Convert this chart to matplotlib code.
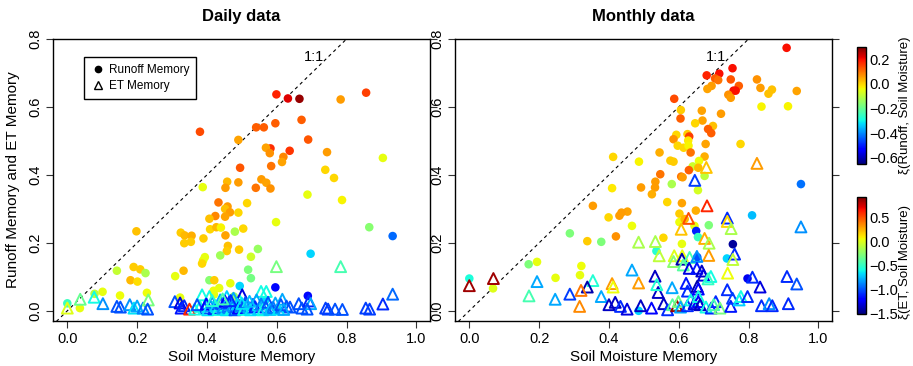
import matplotlib
matplotlib.use("Agg")
import matplotlib.pyplot as plt
import matplotlib.colors as mcolors
import matplotlib.cm as cm
from matplotlib.lines import Line2D

plt.rcParams['font.family'] = ['Liberation Sans', 'DejaVu Sans']

# ---------------- DAILY: runoff memory (circles) ----------------
daily_runoff_x = [0.599, 0.632, 0.665, 0.783, 0.856, 0.671, 0.596, 0.541, 0.563, 0.380,
                  0.490, 0.690, 0.582, 0.569, 0.580, 0.637, 0.619, 0.615, 0.744, 0.495,
                  0.584, 0.904, 0.739, 0.764, 0.388, 0.458, 0.453, 0.490, 0.556, 0.570,
                  0.540, 0.582, 0.688, 0.787, 0.433, 0.459, 0.515, 0.452, 0.466, 0.490,
                  0.424, 0.407, 0.452, 0.409, 0.427, 0.440, 0.504, 0.480, 0.198, 0.598,
                  0.325, 0.336, 0.356, 0.354, 0.335, 0.453, 0.390, 0.460, 0.457, 0.492,
                  0.546, 0.438, 0.526, 0.394, 0.389, 0.386, 0.697, 0.865, 0.932, 0.518,
                  0.526, 0.407, 0.421, 0.467, 0.435, 0.419, 0.309, 0.333, 0.142, 0.190,
                  0.209, 0.224, 0.181, 0.201, 0.101, 0.151, 0.078, 0.228, 0.036, 0.000,
                  0.494, 0.596, 0.689, 0.323, 0.566, 0.477, 0.420, 0.600]
daily_runoff_y = [0.637, 0.625, 0.624, 0.622, 0.642, 0.562, 0.552, 0.540, 0.540, 0.527,
                  0.503, 0.504, 0.478, 0.480, 0.464, 0.471, 0.453, 0.438, 0.467, 0.421,
                  0.426, 0.450, 0.415, 0.391, 0.364, 0.380, 0.362, 0.378, 0.387, 0.377,
                  0.362, 0.360, 0.342, 0.326, 0.319, 0.307, 0.317, 0.300, 0.290, 0.289,
                  0.279, 0.271, 0.277, 0.240, 0.246, 0.245, 0.242, 0.233, 0.234, 0.261,
                  0.230, 0.222, 0.221, 0.203, 0.199, 0.222, 0.213, 0.191, 0.176, 0.180,
                  0.182, 0.163, 0.159, 0.158, 0.148, 0.139, 0.168, 0.246, 0.220, 0.121,
                  0.096, 0.090, 0.090, 0.081, 0.067, 0.059, 0.102, 0.118, 0.118, 0.129,
                  0.122, 0.111, 0.090, 0.086, 0.056, 0.045, 0.050, 0.053, 0.008, 0.022,
                  0.073, 0.069, 0.044, 0.039, 0.029, 0.042, 0.048, 0.005]
daily_runoff_c = [0.18, 0.22, 0.28, 0.06, 0.15, 0.12, 0.12, 0.12, 0.12, 0.14,
                  0.05, 0.13, 0.17, 0.05, 0.07, 0.16, 0.08, 0.05, 0.06, 0.13,
                  0.10, -0.05, 0.00, 0.00, -0.05, 0.03, 0.06, 0.06, 0.06, 0.05,
                  0.10, 0.07, -0.05, -0.03, 0.10, 0.06, 0.00, 0.02, 0.06, 0.00,
                  0.08, 0.02, 0.05, 0.00, 0.03, -0.03, 0.00, -0.12, 0.02, -0.05,
                  0.01, 0.03, 0.04, 0.01, 0.01, 0.05, 0.01, 0.02, 0.01, 0.01,
                  -0.14, -0.13, -0.08, -0.05, -0.05, 0.00, -0.33, -0.16, -0.43, -0.17,
                  -0.18, -0.16, 0.01, -0.05, -0.05, -0.04, -0.05, 0.03, -0.09, 0.01,
                  0.01, -0.12, 0.03, -0.01, -0.05, -0.04, -0.10, -0.04, -0.05, -0.25,
                  -0.33, -0.52, -0.52, -0.05, -0.33, -0.15, -0.05, -0.18]

# ---------------- DAILY: ET memory (triangles) ----------------
daily_et_x = [0.000, 0.037, 0.077, 0.102, 0.142, 0.152, 0.179, 0.191, 0.200, 0.217,
              0.232, 0.230, 0.308, 0.323, 0.326, 0.335, 0.350, 0.386, 0.407, 0.380,
              0.394, 0.410, 0.428, 0.438, 0.448, 0.457, 0.466, 0.476, 0.483, 0.494,
              0.501, 0.555, 0.570, 0.599, 0.783, 0.515, 0.532, 0.542, 0.569, 0.585,
              0.596, 0.616, 0.628, 0.638, 0.663, 0.672, 0.692, 0.697, 0.687, 0.740,
              0.747, 0.767, 0.788, 0.855, 0.866, 0.904, 0.932,
              0.365, 0.372, 0.398, 0.402, 0.415, 0.420, 0.425, 0.432, 0.440, 0.445,
              0.452, 0.455, 0.460, 0.463, 0.470, 0.474, 0.480, 0.487, 0.490, 0.497,
              0.505, 0.510, 0.520, 0.525, 0.538, 0.548, 0.555, 0.560, 0.575, 0.580,
              0.590, 0.605, 0.612, 0.620, 0.468, 0.445, 0.500, 0.522, 0.415]
daily_et_y = [0.008, 0.034, 0.040, 0.021, 0.013, 0.011, 0.018, 0.008, 0.014, 0.008,
              0.032, 0.005, 0.027, 0.023, 0.008, 0.015, 0.005, 0.047, 0.042, 0.013,
              0.008, 0.014, 0.008, 0.032, 0.014, 0.042, 0.020, 0.037, 0.011, 0.030,
              0.047, 0.057, 0.057, 0.130, 0.130, 0.017, 0.019, 0.032, 0.011, 0.008,
              0.023, 0.034, 0.014, 0.011, 0.021, 0.008, 0.029, 0.021, 0.005, 0.008,
              0.005, 0.005, 0.004, 0.008, 0.005, 0.020, 0.049,
              0.005, 0.018, 0.020, 0.003, 0.025, 0.006, 0.015, 0.004, 0.022, 0.008,
              0.028, 0.003, 0.012, 0.025, 0.006, 0.016, 0.003, 0.020, 0.008, 0.015,
              0.004, 0.024, 0.010, 0.003, 0.012, 0.005, 0.020, 0.003, 0.025, 0.004,
              0.010, 0.005, 0.018, 0.004, 0.030, 0.035, 0.022, 0.028, 0.030]
daily_et_c = [0.00, -0.35, -0.60, -0.85, -1.00, -1.00, -0.85, -0.65, -0.80, -0.90,
              -0.30, -1.00, -1.00, -1.30, -1.15, -1.10, 0.60, -0.60, -0.60, -0.60,
              -1.00, -0.80, -1.00, -0.80, -1.00, -0.70, -1.00, -0.80, -1.00, -0.60,
              -1.30, -0.60, -0.60, -0.30, -0.45, -0.80, -1.00, -0.80, -1.00, -1.00,
              -0.80, -0.80, -1.00, -1.00, -1.00, -1.00, -1.10, -0.80, -1.00, -1.05,
              -1.05, -1.00, -1.00, -1.05, -1.05, -1.10, -0.95,
              -0.60, -1.00, -1.20, -0.65, -0.90, -1.10, -0.70, -0.60, -1.00, -0.85,
              -1.20, -0.65, -0.90, -1.10, -0.60, -0.85, -1.00, -0.70, -1.20, -0.90,
              -0.60, -1.00, -0.80, -0.65, -1.10, -0.70, -0.90, -0.60, -1.00, -0.75,
              -0.90, -0.65, -1.00, -0.80, -1.10, -0.45, -0.65, -0.75, -0.55]

# ---------------- MONTHLY: runoff memory (circles) ----------------
monthly_runoff_x = [0.909, 0.754, 0.680, 0.716, 0.704, 0.713, 0.749, 0.824, 0.694, 0.682,
                    0.772, 0.757, 0.763, 0.742, 0.749, 0.834, 0.857, 0.867, 0.938, 0.837,
                    0.913, 0.587, 0.606, 0.605, 0.666, 0.668, 0.721, 0.647, 0.698, 0.684,
                    0.693, 0.593, 0.585, 0.625, 0.630, 0.627, 0.597, 0.614, 0.628, 0.677,
                    0.777, 0.634, 0.674, 0.412, 0.545, 0.486, 0.576, 0.585, 0.658, 0.640,
                    0.656, 0.629, 0.547, 0.607, 0.611, 0.674, 0.533, 0.532, 0.492, 0.409,
                    0.523, 0.580, 0.655, 0.567, 0.609, 0.649, 0.354, 0.453, 0.436, 0.430,
                    0.399, 0.466, 0.602, 0.602, 0.645, 0.686, 0.650, 0.655, 0.755, 0.810,
                    0.950, 0.288, 0.338, 0.378, 0.420, 0.556, 0.609, 0.536, 0.170, 0.194,
                    0.321, 0.247, 0.317, 0.000, 0.068, 0.738, 0.797, 0.485, 0.653, 0.617]
monthly_runoff_y = [0.774, 0.714, 0.693, 0.698, 0.684, 0.679, 0.681, 0.681, 0.662, 0.653,
                    0.662, 0.648, 0.648, 0.636, 0.627, 0.656, 0.639, 0.651, 0.647, 0.601,
                    0.602, 0.624, 0.591, 0.566, 0.589, 0.560, 0.580, 0.552, 0.544, 0.535,
                    0.523, 0.518, 0.505, 0.520, 0.513, 0.501, 0.486, 0.480, 0.486, 0.491,
                    0.491, 0.466, 0.454, 0.453, 0.466, 0.439, 0.442, 0.439, 0.441, 0.425,
                    0.421, 0.414, 0.402, 0.395, 0.393, 0.397, 0.380, 0.363, 0.363, 0.361,
                    0.343, 0.373, 0.355, 0.320, 0.317, 0.295, 0.309, 0.292, 0.289, 0.280,
                    0.275, 0.250, 0.286, 0.261, 0.250, 0.252, 0.235, 0.217, 0.196, 0.281,
                    0.373, 0.228, 0.205, 0.203, 0.219, 0.215, 0.197, 0.176, 0.137, 0.144,
                    0.132, 0.097, 0.105, 0.095, 0.066, 0.154, 0.095, 0.000, 0.158, 0.270]
monthly_runoff_c = [0.20, 0.20, 0.18, 0.20, 0.12, 0.10, 0.13, 0.07, 0.06, 0.05,
                    0.12, 0.20, 0.20, 0.07, 0.06, 0.06, 0.02, 0.02, 0.05, -0.03,
                    -0.03, 0.14, 0.01, 0.12, 0.05, 0.05, 0.06, 0.00, 0.02, 0.12,
                    0.12, 0.00, 0.07, 0.01, 0.15, -0.02, 0.00, 0.00, -0.03, 0.05,
                    0.00, 0.10, 0.04, 0.00, 0.04, -0.03, 0.01, 0.01, -0.04, -0.08,
                    0.03, 0.12, 0.10, 0.10, 0.06, -0.10, 0.06, 0.06, 0.06, -0.02,
                    0.04, -0.12, -0.07, 0.00, 0.05, 0.04, 0.06, 0.05, 0.06, 0.06,
                    0.00, -0.04, 0.01, -0.04, -0.05, -0.17, -0.50, -0.25, -0.62, -0.35,
                    -0.42, -0.17, 0.01, -0.17, 0.07, 0.00, -0.05, -0.27, -0.17, -0.05,
                    -0.04, -0.05, -0.05, -0.28, -0.06, -0.33, -0.55, -0.33, -0.45, 0.03]

# ---------------- MONTHLY: ET memory (triangles) ----------------
monthly_et_x = [0.824, 0.679, 0.646, 0.681, 0.628, 0.607, 0.739, 0.739, 0.750, 0.674,
                0.687, 0.485, 0.533, 0.686, 0.760, 0.755, 0.950, 0.544, 0.587, 0.610,
                0.585, 0.609, 0.631, 0.613, 0.652, 0.630, 0.652, 0.666, 0.671, 0.692,
                0.684, 0.532, 0.466, 0.740, 0.811, 0.910, 0.938, 0.833, 0.739, 0.621,
                0.625, 0.653, 0.656, 0.541, 0.581, 0.537, 0.485, 0.409, 0.412, 0.354,
                0.338, 0.320, 0.194, 0.288, 0.246, 0.171, 0.000, 0.069, 0.316, 0.378,
                0.400, 0.418, 0.433, 0.452, 0.491, 0.522, 0.557, 0.568, 0.582, 0.594,
                0.599, 0.605, 0.625, 0.634, 0.644, 0.656, 0.656, 0.661, 0.678, 0.693,
                0.706, 0.700, 0.718, 0.749, 0.754, 0.773, 0.778, 0.797, 0.837, 0.859,
                0.868, 0.914]
monthly_et_y = [0.434, 0.422, 0.384, 0.309, 0.272, 0.240, 0.273, 0.263, 0.242, 0.213,
                0.199, 0.202, 0.204, 0.163, 0.167, 0.151, 0.247, 0.162, 0.162, 0.162,
                0.145, 0.152, 0.157, 0.135, 0.160, 0.125, 0.125, 0.117, 0.105, 0.101,
                0.094, 0.102, 0.120, 0.111, 0.099, 0.101, 0.079, 0.070, 0.062, 0.081,
                0.058, 0.072, 0.064, 0.054, 0.068, 0.077, 0.082, 0.080, 0.070, 0.089,
                0.070, 0.060, 0.086, 0.049, 0.034, 0.044, 0.074, 0.095, 0.013, 0.042,
                0.018, 0.025, 0.013, 0.005, 0.015, 0.008, 0.021, 0.003, 0.018, 0.015,
                0.027, 0.011, 0.015, 0.032, 0.021, 0.027, 0.042, 0.018, 0.011, 0.008,
                0.027, 0.018, 0.008, 0.013, 0.037, 0.032, 0.042, 0.042, 0.015, 0.021,
                0.015, 0.021]
monthly_et_c = [0.30, 0.20, -1.05, 0.60, 0.50, 0.20, -1.10, 0.15, -0.15, 0.25,
                -0.15, -0.15, -0.15, 0.30, -1.10, -0.10, -0.85, -0.10, 0.00, 0.05,
                -0.25, -1.40, -0.45, -0.40, -0.85, -1.30, -1.15, -1.35, -1.30, -0.60,
                -0.50, -1.35, -0.80, 0.05, -1.10, -1.10, -1.00, -1.30, -1.10, -1.15,
                -1.10, -1.40, -1.20, -1.35, -0.80, -0.55, 0.30, 0.30, 0.05, -0.55,
                -1.40, 0.40, -0.80, -1.05, -0.80, -0.45, 0.85, 0.85, 0.35, -0.80,
                -1.35, -1.35, -1.10, -1.30, -1.35, -1.20, -1.35, -1.10, -0.40, 0.85,
                -0.30, -0.80, -1.10, -0.60, -1.30, -1.20, -0.60, -1.35, -0.60, -1.10,
                -1.10, -0.45, -0.30, -1.15, -1.05, -0.70, -0.60, -1.10, -1.10, -0.85,
                -1.10, -1.10]

x_ticks = [0.0, 0.2, 0.4, 0.6, 0.8, 1.0]
y_ticks = [0.0, 0.2, 0.4, 0.6, 0.8]
runoff_cbar_ticks = [0.2, 0.0, -0.2, -0.4, -0.6]
et_cbar_ticks = [0.5, 0.0, -0.5, -1.0, -1.5]

cmap = plt.get_cmap('jet')
norm_r = mcolors.Normalize(vmin=-0.645, vmax=0.30)
norm_e = mcolors.Normalize(vmin=-1.5, vmax=0.92)

W, H = 913, 366
fig = plt.figure(figsize=(W / 100, H / 100), dpi=100)

def px_axes(l, t, r, b):
    return [l / W, (H - b) / H, (r - l) / W, (b - t) / H]

ax1 = fig.add_axes(px_axes(53, 39, 430, 321))
ax2 = fig.add_axes(px_axes(455, 39, 832, 321))

def style(ax, title, ylabel=None):
    ax.set_xlim(-0.041, 1.039)
    ax.set_ylim(-0.03, 0.8)
    ax.set_xticks(x_ticks)
    ax.set_xticklabels([f"{v:.1f}" for v in x_ticks])
    ax.set_yticks(y_ticks)
    ax.set_yticklabels([f"{v:.1f}" for v in y_ticks], rotation=90, va='center')
    ax.tick_params(axis='both', direction='out', length=5, width=0.8, labelsize=10.5,
                   color='#333333')
    ax.tick_params(axis='y', right=True, pad=3)
    ax.tick_params(axis='x', pad=3)
    for s in ax.spines.values():
        s.set_linewidth(1.0)
    ax.set_title(title, fontsize=12, fontweight='bold', pad=13)
    ax.set_xlabel("Soil Moisture Memory", fontsize=11, labelpad=3)
    if ylabel:
        ax.set_ylabel(ylabel, fontsize=11, labelpad=6)
    ax.plot([-0.1, 1.1], [-0.1, 1.1], linestyle=(0, (3, 3)), color='black', lw=0.8, zorder=1)
    ax.text(0.706, 0.747, "1:1", fontsize=10.5, ha='center', va='center', zorder=2)

def draw(ax, rx, ry, rc, ex, ey, ec):
    ax.scatter(rx, ry, c=rc, cmap=cmap, norm=norm_r, s=38, marker='o',
               edgecolors='none', zorder=3)
    ecolors = [cmap(norm_e(v)) for v in ec]
    ax.scatter(ex, ey, s=62, marker='^', facecolors='none', edgecolors=ecolors,
               linewidths=1.4, zorder=4)

style(ax1, "Daily data", "Runoff Memory and ET Memory")
style(ax2, "Monthly data")
draw(ax1, daily_runoff_x, daily_runoff_y, daily_runoff_c, daily_et_x, daily_et_y, daily_et_c)
draw(ax2, monthly_runoff_x, monthly_runoff_y, monthly_runoff_c,
     monthly_et_x, monthly_et_y, monthly_et_c)

handles = [Line2D([], [], marker='o', color='black', linestyle='none', markersize=4.5),
           Line2D([], [], marker='^', markerfacecolor='none', markeredgecolor='black',
                  linestyle='none', markersize=6, markeredgewidth=1.0)]
leg = ax1.legend(handles, ["Runoff Memory", "ET Memory"], loc='upper left',
                 bbox_to_anchor=(0.082, 0.936), fontsize=8.5, frameon=True, fancybox=False,
                 edgecolor='black', framealpha=1, handletextpad=0.3, handlelength=1.2,
                 borderpad=0.6, labelspacing=0.35, borderaxespad=0)
leg.get_frame().set_linewidth(1.0)

# colorbars
cax1 = fig.add_axes(px_axes(856.5, 47, 865.5, 163.5))
cb1 = fig.colorbar(cm.ScalarMappable(norm=norm_r, cmap=cmap), cax=cax1)
cb1.set_ticks(runoff_cbar_ticks)
cb1.set_ticklabels(["0.2", "0.0", "\u22120.2", "\u22120.4", "\u22120.6"])
cax2 = fig.add_axes(px_axes(856.5, 197, 865.5, 313.5))
cb2 = fig.colorbar(cm.ScalarMappable(norm=norm_e, cmap=cmap), cax=cax2)
cb2.set_ticks(et_cbar_ticks)
cb2.set_ticklabels(["0.5", "0.0", "\u22120.5", "\u22121.0", "\u22121.5"])
for cb in (cb1, cb2):
    cb.outline.set_linewidth(1.0)
    cb.ax.tick_params(labelsize=10.5, length=0, pad=3)

fig.text(905 / W, 1 - 105 / H, "\u03be(Runoff, Soil Moisture)", rotation=90,
         ha='center', va='center', fontsize=9.5)
fig.text(905 / W, 1 - 262 / H, "\u03be(ET, Soil Moisture)", rotation=90,
         ha='center', va='center', fontsize=9.5)

fig.savefig("out.png", dpi=100)
